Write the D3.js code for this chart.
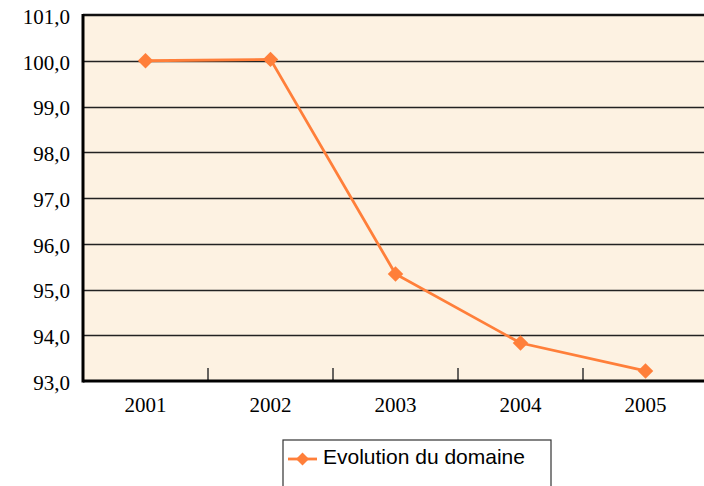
<!DOCTYPE html>
<html>
<head>
<meta charset="utf-8">
<script src="https://cdn.jsdelivr.net/npm/d3@7"></script>
<style>
  body { margin: 0; background: #fff; }
  svg { display: block; }
</style>
</head>
<body>
<svg id="chart" width="704" height="486"></svg>
<script>
const years = ["2001", "2002", "2003", "2004", "2005"];
const values = [100.0, 100.03, 95.34, 93.83, 93.22];
const yTicks = [93, 94, 95, 96, 97, 98, 99, 100, 101];
const seriesName = "Evolution du domaine";

const svg = d3.select("#chart");
const plotL = 83, plotR = 708, plotT = 15, plotB = 381;
const orange = "#ff7f3a";
const serif = "'Liberation Serif', 'Times New Roman', serif";

const x = d3.scaleBand().domain(years).range([plotL, plotR]);
const y = d3.scaleLinear().domain([93, 101]).range([plotB, plotT]);
const fmt = v => d3.format(".1f")(v).replace(".", ",");

// plot background
svg.append("rect")
  .attr("x", plotL).attr("y", plotT)
  .attr("width", plotR - plotL).attr("height", plotB - plotT)
  .attr("fill", "#fdf2e2");

// gridlines
svg.append("g")
  .selectAll("line")
  .data(yTicks.filter(t => t > 93 && t < 101))
  .enter()
  .append("line")
  .attr("x1", plotL).attr("x2", plotR)
  .attr("y1", d => Math.round(y(d)) + 0.5).attr("y2", d => Math.round(y(d)) + 0.5)
  .attr("stroke", "#222").attr("stroke-width", 1.3);

// top border
svg.append("line")
  .attr("x1", plotL).attr("x2", plotR)
  .attr("y1", plotT).attr("y2", plotT)
  .attr("stroke", "#111").attr("stroke-width", 2.5);

// y axis
const yAxis = svg.append("g")
  .attr("transform", `translate(${plotL},0)`)
  .call(d3.axisLeft(y).tickValues(yTicks).tickFormat(fmt).tickSize(0).tickPadding(13));
yAxis.select(".domain").remove();
yAxis.selectAll("text")
  .attr("dy", "0.4em")
  .style("font-family", serif).style("font-size", "21px").style("fill", "#000");

// x axis
const xAxis = svg.append("g")
  .attr("transform", `translate(0,${plotB})`)
  .call(d3.axisBottom(x).tickSize(0).tickPadding(16));
xAxis.select(".domain").remove();
xAxis.selectAll("text")
  .style("font-family", serif).style("font-size", "21px").style("fill", "#000");

// category separators (tick marks pointing up)
svg.append("g")
  .selectAll("line")
  .data(years.slice(1))
  .enter()
  .append("line")
  .attr("x1", d => x(d)).attr("x2", d => x(d))
  .attr("y1", plotB).attr("y2", plotB - 13)
  .attr("stroke", "#333").attr("stroke-width", 1.5);

// left and bottom borders
svg.append("line")
  .attr("x1", plotL).attr("x2", plotL)
  .attr("y1", plotT - 1).attr("y2", plotB + 1.5)
  .attr("stroke", "#000").attr("stroke-width", 3);
svg.append("line")
  .attr("x1", plotL).attr("x2", plotR)
  .attr("y1", plotB).attr("y2", plotB)
  .attr("stroke", "#000").attr("stroke-width", 3);

// series
const pts = years.map((yr, i) => [x(yr) + x.bandwidth() / 2, y(values[i])]);
svg.append("path")
  .attr("d", d3.line()(pts))
  .attr("fill", "none")
  .attr("stroke", orange).attr("stroke-width", 2.8);

svg.append("g")
  .selectAll("path")
  .data(pts)
  .enter()
  .append("path")
  .attr("transform", d => `translate(${d[0]},${d[1]}) rotate(45)`)
  .attr("d", d3.symbol().type(d3.symbolSquare).size(120))
  .attr("fill", orange);

// legend
const lg = svg.append("g").attr("transform", "translate(283,440)");
lg.append("rect")
  .attr("x", 0).attr("y", 0)
  .attr("width", 268).attr("height", 60)
  .attr("fill", "#fff").attr("stroke", "#333").attr("stroke-width", 1.2);
lg.append("line")
  .attr("x1", 5).attr("x2", 34)
  .attr("y1", 19).attr("y2", 19)
  .attr("stroke", orange).attr("stroke-width", 2.8);
lg.append("path")
  .attr("transform", "translate(19.5,19) rotate(45)")
  .attr("d", d3.symbol().type(d3.symbolSquare).size(85))
  .attr("fill", orange);
lg.append("text")
  .attr("x", 40).attr("y", 24)
  .attr("font-family", "'Liberation Sans', Arial, sans-serif")
  .attr("font-size", 21).attr("fill", "#000")
  .text(seriesName);
</script>
</body>
</html>
